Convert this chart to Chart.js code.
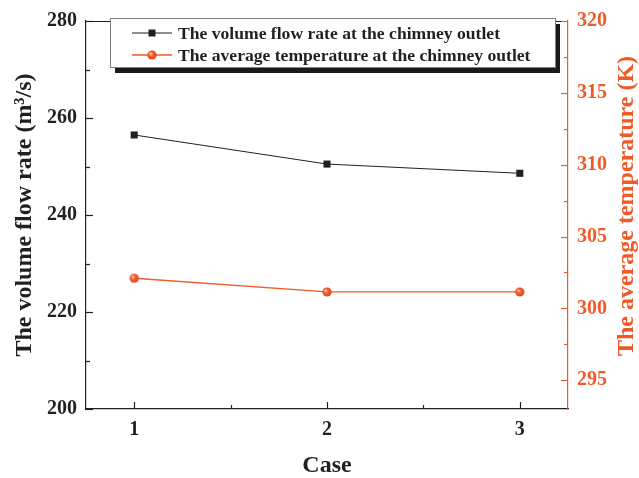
<!DOCTYPE html>
<html><head><meta charset="utf-8">
<script src="https://cdn.jsdelivr.net/npm/chart.js@4.4.1/dist/chart.umd.min.js"></script>
<style>html,body{margin:0;padding:0;background:#fff;} canvas{display:block;}</style>
</head><body>
<canvas id="c" width="639" height="478" style="width:639px;height:478px"></canvas>
<script>
// ---- data ----
const caseLabels = ['1', '2', '3'];
const caseValues = [1, 2, 3];
const flowRate = [256.5, 250.5, 248.6];        // m3/s (left axis)
const avgTemp = [302.1, 301.15, 301.15];       // K (right axis)
const seriesNames = ['The volume flow rate at the chimney outlet', 'The average temperature at the chimney outlet'];
const leftTicks = [200, 220, 240, 260, 280];
const rightTicks = [295, 300, 305, 310, 315, 320];
const rightTitle = 'The average temperature (K)';

// ---- styles ----
const BLACK = '#231f20';
const RED = '#f05a28';
const FONT = '"Liberation Serif", "Times New Roman", serif';

function withMinor(major) {
  const out = [];
  for (let i = 0; i < major.length; i++) {
    out.push(major[i]);
    if (i < major.length - 1) out.push((major[i] + major[i + 1]) / 2);
  }
  return out;
}

// red shaded ball marker
function makeBall(r) {
  const s = Math.ceil(r * 2 + 2);
  const cv = document.createElement('canvas');
  cv.width = s; cv.height = s;
  const g = cv.getContext('2d');
  const c = s / 2;
  const grd = g.createRadialGradient(c - r * 0.35, c - r * 0.35, r * 0.1, c, c, r);
  grd.addColorStop(0, '#ffd0c0');
  grd.addColorStop(0.35, '#f26a3c');
  grd.addColorStop(1, '#e2401a');
  g.fillStyle = grd;
  g.beginPath(); g.arc(c, c, r, 0, Math.PI * 2); g.fill();
  return cv;
}
const ball = makeBall(4.6);

const inwardTicks = {
  id: 'inwardTicks',
  afterDraw(chart) {
    const ctx = chart.ctx;
    const a = chart.chartArea;
    const sx = chart.scales.x, sy = chart.scales.y, sy2 = chart.scales.y2;
    ctx.save();
    ctx.lineWidth = 1.2;
    ctx.strokeStyle = BLACK;
    ctx.beginPath(); ctx.moveTo(a.left, a.top + 0.5); ctx.lineTo(a.right, a.top + 0.5); ctx.stroke();
    sx.ticks.forEach(t => {
      const px = Math.round(sx.getPixelForValue(t.value)) + 0.5;
      const len = Number.isInteger(t.value) ? 7 : 4;
      ctx.beginPath(); ctx.moveTo(px, a.bottom); ctx.lineTo(px, a.bottom - len); ctx.stroke();
      ctx.beginPath(); ctx.moveTo(px, a.top); ctx.lineTo(px, a.top + len); ctx.stroke();
    });
    sy.ticks.forEach(t => {
      const py = Math.round(sy.getPixelForValue(t.value)) + 0.5;
      const len = leftTicks.includes(t.value) ? 7 : 4;
      ctx.beginPath(); ctx.moveTo(a.left, py); ctx.lineTo(a.left + len, py); ctx.stroke();
    });
    ctx.strokeStyle = RED;
    sy2.ticks.forEach(t => {
      const py = Math.round(sy2.getPixelForValue(t.value)) + 0.5;
      const len = rightTicks.includes(t.value) ? 7 : 4;
      ctx.beginPath(); ctx.moveTo(a.right, py); ctx.lineTo(a.right - len, py); ctx.stroke();
    });
    // right axis title, reading bottom-to-top
    ctx.save();
    ctx.translate(627, 206);
    ctx.rotate(-Math.PI / 2);
    ctx.fillStyle = RED;
    ctx.font = 'bold 24px ' + FONT;
    ctx.textAlign = 'center';
    ctx.textBaseline = 'middle';
    ctx.fillText(rightTitle, 0, 0);
    ctx.restore();
    ctx.restore();
  }
};

const boxLegend = {
  id: 'boxLegend',
  afterDraw(chart) {
    const ctx = chart.ctx;
    const bx = 110, by = 18, bw = 445, bh = 49;
    ctx.save();
    ctx.fillStyle = '#1a1a1a';
    ctx.fillRect(bx + 5, by + 6, bw, bh);
    ctx.fillStyle = '#fff';
    ctx.fillRect(bx, by, bw, bh);
    ctx.strokeStyle = '#808080';
    ctx.lineWidth = 1;
    ctx.strokeRect(bx + 0.5, by + 0.5, bw, bh);
    const rows = [33, 55];
    chart.data.datasets.forEach((ds, i) => {
      const y = rows[i];
      ctx.strokeStyle = ds.borderColor;
      ctx.lineWidth = ds.borderWidth;
      ctx.beginPath(); ctx.moveTo(132, y); ctx.lineTo(172, y); ctx.stroke();
      if (i === 0) {
        ctx.fillStyle = BLACK;
        ctx.fillRect(148.5, y - 3.5, 7, 7);
      } else {
        ctx.drawImage(ball, 152 - ball.width / 2, y - ball.height / 2);
      }
      ctx.fillStyle = BLACK;
      ctx.font = 'bold 17.6px ' + FONT;
      ctx.textBaseline = 'middle';
      ctx.textAlign = 'left';
      ctx.fillText(ds.label, 178, y + 1);
    });
    ctx.restore();
  }
};

new Chart(document.getElementById('c'), {
  type: 'line',
  data: {
    datasets: [
      {
        label: seriesNames[0],
        data: caseValues.map((x, i) => ({ x, y: flowRate[i] })),
        yAxisID: 'y',
        borderColor: BLACK,
        borderWidth: 1,
        pointStyle: 'rect',
        pointRadius: 5,
        pointHoverRadius: 5,
        pointBackgroundColor: BLACK,
        pointBorderColor: BLACK,
        pointBorderWidth: 0,
        tension: 0
      },
      {
        label: seriesNames[1],
        data: caseValues.map((x, i) => ({ x, y: avgTemp[i] })),
        yAxisID: 'y2',
        borderColor: RED,
        borderWidth: 1.3,
        pointStyle: ball,
        pointRadius: 5,
        tension: 0
      }
    ]
  },
  options: {
    responsive: false,
    devicePixelRatio: 1,
    animation: false,
    events: [],
    layout: { padding: { top: 18, left: 0, right: 0, bottom: 0 } },
    plugins: { legend: { display: false }, tooltip: { enabled: false } },
    scales: {
      x: {
        type: 'linear',
        min: 0.75, max: 3.25,
        afterBuildTicks: s => { s.ticks = withMinor(caseValues).map(v => ({ value: v })); },
        afterFit: s => { s.height = 69; },
        grid: { display: false, drawTicks: false },
        border: { display: true, color: BLACK, width: 1.2 },
        ticks: {
          autoSkip: false, maxRotation: 0, padding: 9, color: BLACK,
          font: { family: FONT, size: 20, weight: 'bold' },
          callback: v => { const i = caseValues.indexOf(v); return i >= 0 ? caseLabels[i] : ''; }
        },
        title: {
          display: true, text: 'Case', color: BLACK,
          font: { family: FONT, size: 24, weight: 'bold', lineHeight: 1 },
          padding: { top: 0, bottom: 0 }
        }
      },
      y: {
        position: 'left',
        min: 200, max: 280,
        afterBuildTicks: s => { s.ticks = withMinor(leftTicks).map(v => ({ value: v })); },
        afterFit: s => { s.width = 86; },
        grid: { display: false, drawTicks: false },
        border: { display: true, color: BLACK, width: 1.2 },
        ticks: {
          autoSkip: false, padding: 9, color: BLACK,
          font: { family: FONT, size: 20, weight: 'bold' },
          callback: v => leftTicks.includes(v) ? String(v) : ''
        },
        title: {
          display: true, text: 'The volume flow rate (m\u00B3/s)', color: BLACK,
          font: { family: FONT, size: 24, weight: 'bold', lineHeight: 1 },
          padding: { top: 13, bottom: 0 }
        }
      },
      y2: {
        position: 'right',
        min: 293, max: 320,
        afterBuildTicks: s => { s.ticks = withMinor(rightTicks).map(v => ({ value: v })); },
        afterFit: s => { s.width = 71; },
        grid: { display: false, drawTicks: false },
        border: { display: true, color: RED, width: 1.2 },
        ticks: {
          autoSkip: false, padding: 9, color: RED,
          font: { family: FONT, size: 20, weight: 'bold' },
          callback: v => rightTicks.includes(v) ? String(v) : ''
        },
        title: { display: false }
      }
    }
  },
  plugins: [inwardTicks, boxLegend]
});
</script>
</body></html>
